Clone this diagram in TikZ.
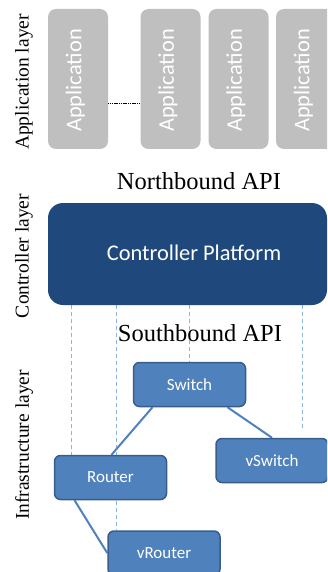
\documentclass[tikz,border=0pt]{standalone}
\usepackage{fontspec}
\setmainfont{Liberation Serif}
\newfontfamily\boxfont{Carlito}
\definecolor{appgray}{HTML}{BFBFBF}
\definecolor{ctrlblue}{HTML}{1F497D}
\definecolor{nodeblue}{HTML}{4F81BD}
\definecolor{nodeborder}{HTML}{385D8A}
\definecolor{dashblue}{HTML}{8EB4E3}
\pgfdeclarelayer{background}
\pgfsetlayers{background,main}
\tikzset{
  appbox/.style={rectangle, rounded corners=8pt, fill=appgray, draw=none,
    minimum width=60pt, minimum height=140pt, inner sep=0pt},
  apptext/.style={rotate=90, text=white, font=\boxfont\fontsize{22.4}{24}\selectfont, inner sep=0pt},
  ctrlbox/.style={rectangle, rounded corners=15pt, fill=ctrlblue, draw=none,
    minimum width=279pt, minimum height=102pt, inner sep=0pt},
  netnode/.style={rectangle, rounded corners=6pt, fill=nodeblue, draw=nodeborder,
    line width=1.5pt, minimum width=112pt, minimum height=44pt, inner sep=0pt,
    text=white, font=\boxfont\fontsize{17}{19}\selectfont},
  layerlabel/.style={rotate=90, font=\fontsize{19.5}{21}\selectfont, inner sep=0pt},
  apilabel/.style={font=\fontsize{24.5}{26}\selectfont, inner sep=0pt},
  link/.style={draw=nodeblue, line width=2pt},
  southline/.style={draw=dashblue, line width=0.8pt, dash pattern=on 4pt off 3pt},
}
\begin{document}
\begin{tikzpicture}[x=1pt, y=-1pt]
\useasboundingbox (0,0) rectangle (327,572);
\clip (0,0) rectangle (327,572);
% application layer
\node[appbox] (app1) at (78,79) {};
\node[appbox] (app2) at (170.5,79) {};
\node[appbox] (app3) at (238.5,79) {};
\node[appbox] (app4) at (306,79) {};
\node[apptext] (t1) at (75.5,80.5) {Application};
\node[apptext] (t2) at (168,80.5) {Application};
\node[apptext] (t3) at (236,80.5) {Application};
\node[apptext] (t4) at (303.5,80.5) {Application};
\draw[black, line width=0.8pt, dash pattern=on 1.2pt off 0.6pt] (app1.east |- 0,103) -- (app2.west |- 0,103);
\node[layerlabel] (lapp) at (24,82) {Application layer};
\node[apilabel] (north) at (199,181) {Northbound API};
% controller
\node[ctrlbox] (ctrl) at (187.5,254) {};
\node[text=white, font=\boxfont\fontsize{22.4}{24}\selectfont, inner sep=0pt] (ctrltext) at (194,253) {Controller Platform};
\node[layerlabel] (lctrl) at (24,256) {Controller layer};
\node[apilabel] (south) at (200,333) {Southbound API};
% infrastructure
\node[netnode] (switch) at (189.5,384.5) {Switch};
\node[netnode] (vswitch) at (272,460.5) {vSwitch};
\node[netnode] (router) at (110.5,477.5) {Router};
\node[netnode] (vrouter) at (164,553) {vRouter};
\node[layerlabel] (linfra) at (24,445) {Infrastructure layer};
\begin{pgfonlayer}{background}
% southbound dashed lines
\coordinate (d4end) at (302,430);
\draw[southline] (ctrl.south -| router.north west) ++(18,0) coordinate (d1a) -- (d1a |- router.north);
\draw[southline] (ctrl.south -| 116,0) -- (vrouter.north -| 116,0);
\draw[southline] (ctrl.south -| switch.north) -- (switch.north);
\draw[southline] (ctrl.south -| d4end) -- (d4end);
% links
\draw[link] ([xshift=-37pt]switch.south) -- ([xshift=1pt]router.north);
\draw[link] ([xshift=38pt]switch.south) -- (vswitch.north);
\draw[link] ([xshift=-36pt]router.south) -- (vrouter.west);
\end{pgfonlayer}
\end{tikzpicture}
\end{document}
